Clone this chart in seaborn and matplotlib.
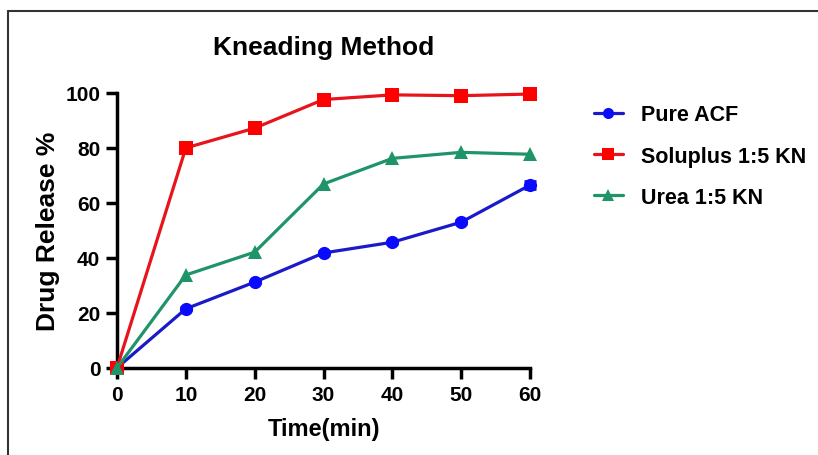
import numpy as np
import pandas as pd
import seaborn as sns
import matplotlib.pyplot as plt
from matplotlib.lines import Line2D

# ---- data ----
time_min = [0, 10, 20, 30, 40, 50, 60]
pure_acf = [0, 21.5, 31.2, 41.8, 45.7, 53.0, 66.5]
soluplus = [0, 80.0, 87.2, 97.6, 99.3, 99.0, 99.6]
urea = [0, 33.8, 42.1, 66.9, 76.2, 78.4, 77.7]
pure_err = [0, 0.5, 0.5, 0.6, 0.6, 0.7, 1.6]

series = ["Pure ACF", "Soluplus 1:5 KN", "Urea 1:5 KN"]
df = pd.DataFrame({
    "time": time_min * 3,
    "release": pure_acf + soluplus + urea,
    "formulation": [s for s in series for _ in time_min],
})

line_cols = {"Pure ACF": "#1a1ac8", "Soluplus 1:5 KN": "#e8141c", "Urea 1:5 KN": "#1f9468"}
mark_cols = {"Pure ACF": "#0a0aff", "Soluplus 1:5 KN": "#ff0000", "Urea 1:5 KN": "#1f9468"}
markers = {"Pure ACF": "o", "Soluplus 1:5 KN": "s", "Urea 1:5 KN": "^"}

sns.set_style("ticks")
plt.rcParams["font.family"] = ["Liberation Sans", "DejaVu Sans"]
plt.rcParams["font.weight"] = "bold"
plt.rcParams["text.color"] = "black"
plt.rcParams["axes.labelcolor"] = "black"

fig = plt.figure(figsize=(8.18, 4.56), dpi=100)
ax = fig.add_axes([0.143, 0.191, 0.505, 0.603])

sns.lineplot(data=df, x="time", y="release", hue="formulation", style="formulation",
             palette=line_cols, markers=markers, dashes=False, markersize=9.5,
             linewidth=2.3, markeredgewidth=0, legend=False, ax=ax, zorder=3)
# markers a touch brighter than the lines
for ln, name in zip(ax.get_lines(), series):
    ln.set_markerfacecolor(mark_cols[name])
    ln.set_markeredgecolor(mark_cols[name])

ax.errorbar(time_min, pure_acf, yerr=pure_err, fmt="none", ecolor=line_cols["Pure ACF"],
            elinewidth=2, capsize=4, capthick=2, zorder=2)

ax.set_xlim(0, 60)
ax.set_ylim(0, 100)
ax.set_xticks(time_min)
ax.set_yticks([0, 20, 40, 60, 80, 100])
for side in ["top", "right"]:
    ax.spines[side].set_visible(False)
for side in ["left", "bottom"]:
    ax.spines[side].set_linewidth(2.5)
    ax.spines[side].set_color("black")
ax.tick_params(axis="both", length=8, width=2.5, labelsize=15, pad=4, colors="black")
for lab in ax.get_xticklabels() + ax.get_yticklabels():
    lab.set_fontweight("bold")
ax.patch.set_alpha(0)
for ln in ax.get_lines():
    ln.set_clip_on(False)

ax.set_xlabel("Time(min)", fontsize=17, fontweight="bold", labelpad=10)
ax.set_ylabel("Drug Release %", fontsize=19, fontweight="bold", labelpad=4)
ax.set_title("Kneading Method", fontsize=19, fontweight="bold", pad=28, color="black")

handles = [Line2D([], [], color=line_cols[s], marker=markers[s], markersize=8,
                  markerfacecolor=mark_cols[s], markeredgewidth=0, linewidth=2.3)
           for s in series]
leg = fig.legend(handles, series, loc="upper left", bbox_to_anchor=(0.702, 0.812),
                 frameon=False, handlelength=1.35, handletextpad=0.85, labelspacing=0.95,
                 prop={"weight": "bold", "size": 15.5})
for t in leg.get_texts():
    t.set_color("black")

# outer frame like the source image
fig.add_artist(Line2D([0.01, 1.0], [0.973, 0.973], color="#333333", linewidth=1.5))
fig.add_artist(Line2D([0.01, 0.01], [0.0, 0.973], color="#333333", linewidth=1.5))

fig.savefig("out.png", dpi=100)
